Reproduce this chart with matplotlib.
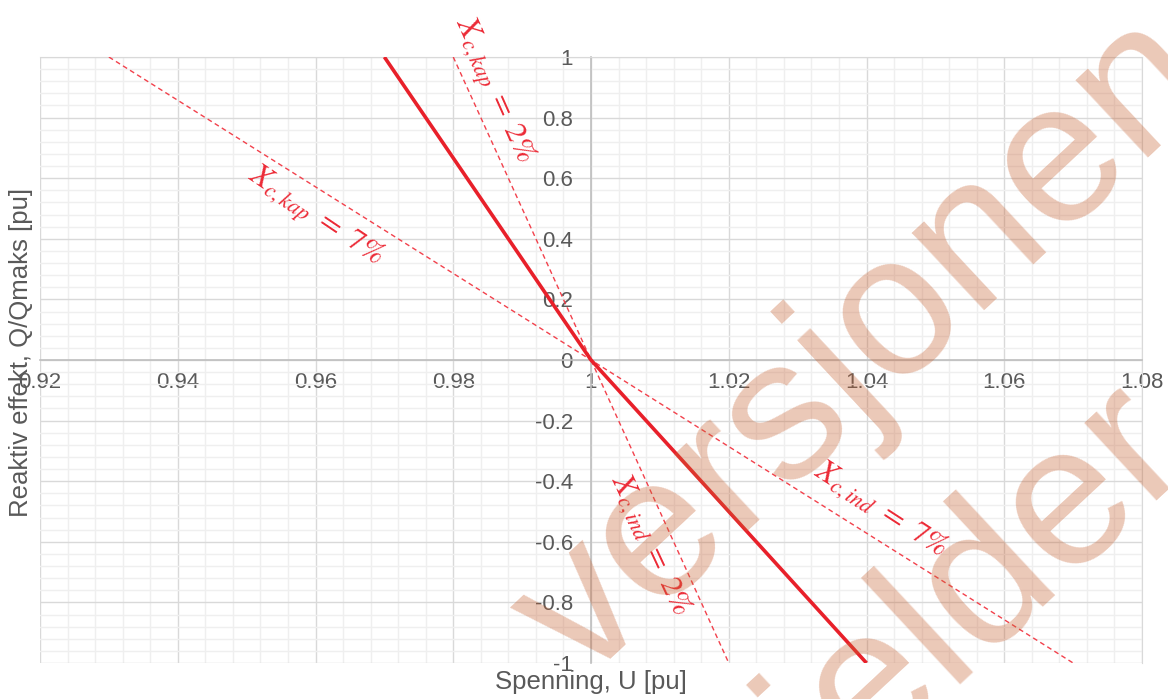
import matplotlib
matplotlib.use("Agg")
import matplotlib.pyplot as plt
from matplotlib.ticker import FixedLocator, FixedFormatter, MultipleLocator

# droop characteristics, U [pu] vs Q/Qmaks [pu]
u_droop = [0.97, 1.0, 1.04]
q_droop = [1.0, 0.0, -1.0]
u_2pct = [0.98, 1.0, 1.02]
q_2pct = [1.0, 0.0, -1.0]
u_7pct = [0.93, 1.0, 1.07]
q_7pct = [1.0, 0.0, -1.0]

x_ticks = [0.92, 0.94, 0.96, 0.98, 1.0, 1.02, 1.04, 1.06, 1.08]
x_labels = ["0.92", "0.94", "0.96", "0.98", "1", "1.02", "1.04", "1.06", "1.08"]
y_ticks = [-1.0, -0.8, -0.6, -0.4, -0.2, 0.0, 0.2, 0.4, 0.6, 0.8, 1.0]
y_labels = ["-1", "-0.8", "-0.6", "-0.4", "-0.2", "0", "0.2", "0.4", "0.6", "0.8", "1"]

# line annotations: text, position, angle
notes = [
    (r"$X_{c,kap}\ =\ 7\%$", 0.9599, 0.469, -34),
    (r"$X_{c,kap}\ =\ 2\%$", 0.9856, 0.888, -66),
    (r"$X_{c,ind}\ =\ 2\%$", 1.0086, -0.611, -65),
    (r"$X_{c,ind}\ =\ 7\%$", 1.042, -0.495, -33),
]

plt.rcParams['font.family'] = ['Liberation Sans', 'DejaVu Sans']
plt.rcParams['mathtext.fontset'] = 'stix'

W, H = 1168, 699
fig = plt.figure(figsize=(W / 100, H / 100), dpi=100)
ax = fig.add_axes([40 / W, 36 / H, 1102 / W, 606 / H])

red = "#E8202A"
ax.plot(u_droop, q_droop, color=red, lw=2.6, solid_capstyle='butt', zorder=5)
ax.plot(u_2pct, q_2pct, color="#F2414C", lw=1.0, ls=(0, (3.5, 2.5)), zorder=4)
ax.plot(u_7pct, q_7pct, color="#F2414C", lw=1.0, ls=(0, (3.5, 2.5)), zorder=4)

for txt, x, y, rot in notes:
    ax.text(x, y, txt, color="#EC2A36", fontsize=22.5, rotation=rot,
            rotation_mode='anchor', ha='center', va='center', zorder=6)

ax.set_xlim(0.92, 1.08)
ax.set_ylim(-1, 1)

ax.xaxis.set_major_locator(FixedLocator(x_ticks))
ax.xaxis.set_major_formatter(FixedFormatter(x_labels))
ax.yaxis.set_major_locator(FixedLocator(y_ticks))
ax.yaxis.set_major_formatter(FixedFormatter(y_labels))
ax.xaxis.set_minor_locator(MultipleLocator(0.004))
ax.yaxis.set_minor_locator(MultipleLocator(0.04))

ax.grid(which='major', color="#d9d9d9", lw=1.0)
ax.grid(which='minor', color="#efefef", lw=1.0)
ax.set_axisbelow(True)

ax.spines['left'].set_position(('data', 1.0))
ax.spines['bottom'].set_position(('data', 0.0))
for s in ['left', 'bottom']:
    ax.spines[s].set_color("#bfbfbf")
    ax.spines[s].set_linewidth(1.2)
for s in ['top', 'right']:
    ax.spines[s].set_color("#d9d9d9")

ax.tick_params(which='both', length=0, labelsize=16, labelcolor="#595959")
ax.tick_params(axis='x', pad=9)
ax.tick_params(axis='y', pad=13)

ax.set_xlabel("Spenning, U [pu]", fontsize=18.5, color="#595959")
ax.set_ylabel("Reaktiv effekt, Q/Qmaks [pu]", fontsize=18.5, color="#595959")
ax.xaxis.set_label_coords(0.5, -0.011)
ax.yaxis.set_label_coords(-0.006, 0.513)

# watermark
wm = dict(fontsize=145, color=(0.78, 0.39, 0.2), alpha=0.35, rotation=43,
          rotation_mode='anchor', ha='center', va='center', zorder=20)
fig.text(866 / W, 1 - 350 / H, "versjonen", **wm)
fig.text(938 / W, 1 - 626 / H, "gjelder", **wm)

fig.savefig("out.png", dpi=100)
